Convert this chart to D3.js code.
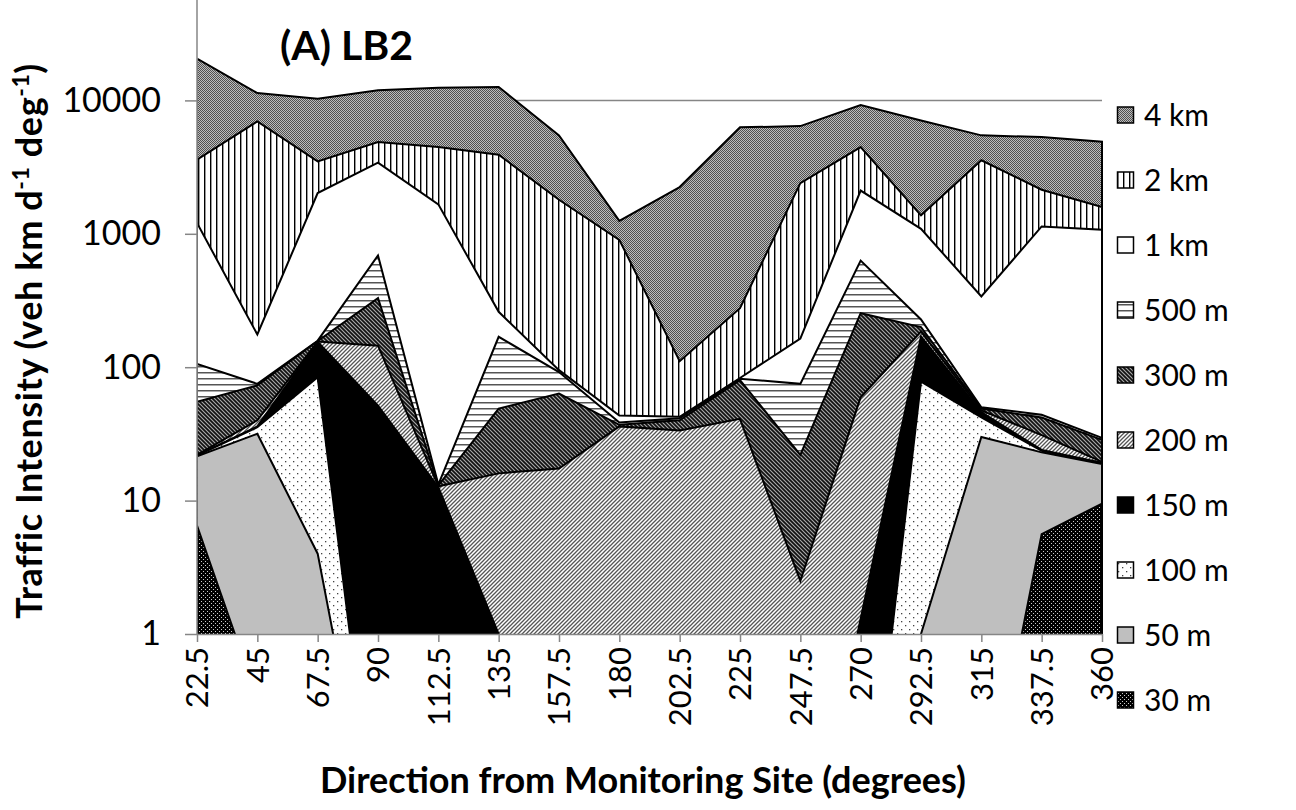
<!DOCTYPE html>
<html>
<head>
<meta charset="utf-8">
<script src="https://cdn.jsdelivr.net/npm/d3@7"></script>
<style>
  body { margin: 0; background: #fff; }
  text { font-family: Lato, "Open Sans", sans-serif; }
</style>
</head>
<body>
<div id="chart"></div>
<script>
const directions = ["22.5", "45", "67.5", "90", "112.5", "135", "157.5", "180",
  "202.5", "225", "247.5", "270", "292.5", "315", "337.5", "360"];

// (veh km d-1 deg-1); values < 1 sit below the axis
const km4 = [20600, 11350, 10300, 11900, 12450, 12600, 5470, 1250, 2240, 6280, 6420, 9230, 7080, 5470, 5310, 4900];
const km2 = [3590, 6960, 3490, 4870, 4470, 3920, 1800, 900, 111, 277, 2400, 4470, 1376, 3555, 2140, 1590];
const km1 = [1205, 176, 2020, 3410, 1663, 260, 95, 43.5, 42.5, 83, 164, 2110, 1090, 339, 1135, 1073];
const m500 = [106, 75, 158, 688, 13.2, 169, 92, 38.5, 41.5, 82, 75, 630, 228, 50, 44, 29.5];
const m300 = [55, 73, 157, 329, 13, 49, 63.5, 37, 40, 80, 22, 254, 200, 49, 42, 28.5];
const m200 = [22, 40, 156, 145, 12.8, 16, 17.4, 36, 33.5, 41, 2.5, 59.5, 185, 47.5, 31, 19.5];
const m150 = [21.8, 36, 155, 51.6, 12.6, 1.0, 0.01, 0.01, 0.01, 0.01, 0.01, 1.3, 170, 46, 24, 19.2];
const m100 = [21.7, 35.5, 84, 0.021, 0.01, 0.01, 0.01, 0.01, 0.01, 0.01, 0.01, 0.01, 78, 42, 23.6, 19];
const m50 = [21.5, 31.7, 4.0, 0.018, 0.01, 0.01, 0.01, 0.01, 0.01, 0.01, 0.01, 0.01, 1.0, 30, 23, 18.8];
const m30 = [6.5, 0.33, 0.01, 0.01, 0.01, 0.01, 0.01, 0.01, 0.01, 0.01, 0.01, 0.01, 0.01, 0.03, 5.6, 9.5];

const seriesNames = ["4 km", "2 km", "1 km", "500 m", "300 m", "200 m", "150 m", "100 m", "50 m", "30 m"];
const seriesValues = [km4, km2, km1, m500, m300, m200, m150, m100, m50, m30];
const yTicks = [1, 10, 100, 1000, 10000];

const width = 1296, height = 810;
const plot = { left: 197, right: 1102, bottom: 634 };
const decade = 133.4;

const x = d3.scalePoint().domain(directions).range([plot.left, plot.right]);
const y = d3.scaleLog().domain([1, 100000]).range([plot.bottom, plot.bottom - 5 * decade]);

const svg = d3.select("#chart").append("svg")
  .attr("width", width).attr("height", height);

const defs = svg.append("defs");

// fill patterns, one per series
function pattern(id, w, h, build) {
  const p = defs.append("pattern").attr("id", id)
    .attr("patternUnits", "userSpaceOnUse")
    .attr("width", w).attr("height", h);
  build(p);
}
pattern("p4km", 2, 2, p => {
  p.append("rect").attr("width", 2).attr("height", 2).attr("fill", "#bdbdbd");
  p.append("rect").attr("width", 1).attr("height", 1).attr("fill", "#505050");
  p.append("rect").attr("x", 1).attr("y", 1).attr("width", 1).attr("height", 1).attr("fill", "#505050");
});
pattern("p2km", 6, 6, p => {
  p.append("rect").attr("width", 6).attr("height", 6).attr("fill", "#fff");
  p.append("rect").attr("width", 1).attr("height", 6).attr("fill", "#000");
  p.append("rect").attr("x", 1).attr("width", 1).attr("height", 6).attr("fill", "#999");
});
pattern("p1km", 4, 4, p => {
  p.append("rect").attr("width", 4).attr("height", 4).attr("fill", "#fff");
});
pattern("p500", 6, 6, p => {
  p.append("rect").attr("width", 6).attr("height", 6).attr("fill", "#fff");
  p.append("rect").attr("width", 6).attr("height", 1).attr("fill", "#555");
  p.append("rect").attr("y", 1).attr("width", 6).attr("height", 1).attr("fill", "#aaa");
});
pattern("p300", 4, 4, p => {
  p.append("rect").attr("width", 4).attr("height", 4).attr("fill", "#111");
  p.append("path").attr("d", "M-1,-1 L5,5 M-1,3 L1,5 M3,-1 L5,1")
    .attr("stroke", "#aaa").attr("stroke-width", 1.1);
});
pattern("p200", 4, 4, p => {
  p.append("rect").attr("width", 4).attr("height", 4).attr("fill", "#fff");
  p.append("path").attr("d", "M-1,5 L5,-1 M-1,1 L1,-1 M3,5 L5,3")
    .attr("stroke", "#555").attr("stroke-width", 1.3);
});
pattern("p150", 4, 4, p => {
  p.append("rect").attr("width", 4).attr("height", 4).attr("fill", "#000");
});
pattern("p100", 8, 8, p => {
  p.append("rect").attr("width", 8).attr("height", 8).attr("fill", "#fff");
  p.append("rect").attr("x", 1).attr("y", 1).attr("width", 1.3).attr("height", 1.3).attr("fill", "#444");
  p.append("rect").attr("x", 5).attr("y", 5).attr("width", 1.3).attr("height", 1.3).attr("fill", "#444");
});
pattern("p50", 4, 4, p => {
  p.append("rect").attr("width", 4).attr("height", 4).attr("fill", "#bfbfbf");
});
pattern("p30", 4, 4, p => {
  p.append("rect").attr("width", 4).attr("height", 4).attr("fill", "#000");
  p.append("rect").attr("x", 1).attr("y", 1).attr("width", 1).attr("height", 1).attr("fill", "#ccc");
  p.append("rect").attr("x", 3).attr("y", 3).attr("width", 1).attr("height", 1).attr("fill", "#ccc");
});
const fills = ["p4km", "p2km", "p1km", "p500", "p300", "p200", "p150", "p100", "p50", "p30"];

defs.append("clipPath").attr("id", "plotClip")
  .append("rect")
  .attr("x", plot.left + 0.5).attr("y", -100)
  .attr("width", plot.right - plot.left + 1.5)
  .attr("height", plot.bottom + 100);

// gridlines behind the areas
svg.append("g").selectAll("line")
  .data(yTicks.slice(1))
  .join("line")
  .attr("x1", plot.left).attr("x2", plot.right)
  .attr("y1", d => Math.round(y(d)) + 0.5).attr("y2", d => Math.round(y(d)) + 0.5)
  .attr("stroke", "#868686").attr("stroke-width", 1.3);

const area = d3.area()
  .x((d, i) => x(directions[i]))
  .y0(plot.bottom + 3000)
  .y1(d => y(d));

svg.append("g").attr("clip-path", "url(#plotClip)")
  .selectAll("path")
  .data(seriesValues)
  .join("path")
  .attr("d", area)
  .attr("fill", (d, i) => `url(#${fills[i]})`)
  .attr("stroke", "#000")
  .attr("stroke-width", 2)
  .attr("stroke-linejoin", "miter")
  .attr("stroke-miterlimit", 4);

// axes
const yAxis = svg.append("g")
  .attr("transform", `translate(${plot.left},0)`)
  .call(d3.axisLeft(y).tickValues(yTicks).tickFormat(d3.format("d")).tickSize(12).tickPadding(24));
yAxis.select(".domain").attr("d", `M0,${y(100000)}V${plot.bottom}`);

const xAxis = svg.append("g")
  .attr("transform", `translate(0,${plot.bottom})`)
  .call(d3.axisBottom(x).tickSize(8).tickSizeOuter(0));

[yAxis, xAxis].forEach(a => {
  a.select(".domain").attr("stroke", "#868686").attr("stroke-width", 1.5);
  a.selectAll(".tick line").attr("stroke", "#868686").attr("stroke-width", 1.5);
  a.selectAll("text").attr("fill", "#000").style("font-size", "34px");
});
xAxis.selectAll(".tick text")
  .style("font-size", "31px")
  .attr("transform", "rotate(-90)")
  .attr("x", -13).attr("y", 0).attr("dy", "0.35em")
  .style("text-anchor", "end");

// title
svg.append("text")
  .attr("x", 280).attr("y", 60)
  .style("font-size", "41px").style("font-weight", "bold")
  .text("(A) LB2");

// axis titles
svg.append("text")
  .attr("x", 643).attr("y", 793)
  .style("font-size", "36px").style("font-weight", "bold")
  .style("text-anchor", "middle")
  .text("Direction from Monitoring Site (degrees)");

const yTitle = svg.append("text")
  .attr("transform", "translate(42,341) rotate(-90)")
  .style("font-size", "36px").style("font-weight", "bold")
  .style("letter-spacing", "0.6px")
  .style("text-anchor", "middle");
yTitle.append("tspan").text("Traffic Intensity (veh km d");
yTitle.append("tspan").attr("dy", -13).style("font-size", "23px").text("-1");
yTitle.append("tspan").attr("dy", 13).text(" deg");
yTitle.append("tspan").attr("dy", -13).style("font-size", "23px").text("-1");
yTitle.append("tspan").attr("dy", 13).text(")");

// legend
const legend = svg.append("g").selectAll("g")
  .data(seriesNames)
  .join("g")
  .attr("transform", (d, i) => `translate(1117,${115 + i * 65})`);
legend.append("rect")
  .attr("x", 0.5).attr("y", -8)
  .attr("width", 16).attr("height", 16)
  .attr("fill", (d, i) => `url(#${fills[i]})`)
  .attr("stroke", "#000").attr("stroke-width", 1.5);
legend.append("text")
  .attr("x", 27).attr("dy", "0.36em")
  .style("font-size", "30px")
  .text(d => d);
</script>
</body>
</html>
